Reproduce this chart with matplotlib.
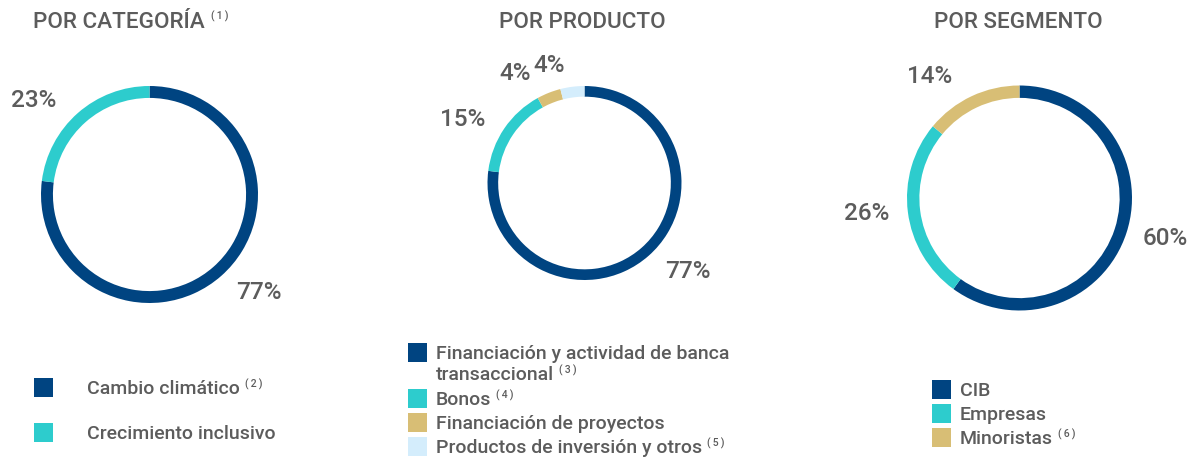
import matplotlib
matplotlib.use("Agg")
import matplotlib.pyplot as plt
from matplotlib.patches import Rectangle

plt.rcParams['font.family'] = ['Roboto', 'DejaVu Sans']

# Data
cat_labels = ['Cambio climático', 'Crecimiento inclusivo']
cat_notes = ['2', None]
cat_values = [77, 23]

prod_labels = ['Financiación y actividad de banca\ntransaccional', 'Bonos',
               'Financiación de proyectos', 'Productos de inversión y otros']
prod_notes = ['3', '4', None, '5']
prod_values = [77, 15, 4, 4]

seg_labels = ['CIB', 'Empresas', 'Minoristas']
seg_notes = [None, None, '6']
seg_values = [60, 26, 14]

titles = ['POR CATEGORÍA', 'POR PRODUCTO', 'POR SEGMENTO']
title_notes = ['1', None, None]

# Colours
NAVY = '#004481'
TURQ = '#2dcccd'
SAND = '#d8be75'
LIGHT = '#d4edfc'
GREY = '#5c5c5c'
palette = [NAVY, TURQ, SAND, LIGHT]

W, H = 1200, 457
fig = plt.figure(figsize=(W / 100, H / 100), dpi=100)
fig.patch.set_facecolor('white')


def fx(px):
    return px / W


def fy(py):
    return 1 - py / H


def sup(txt, note, top_px, gap=5):
    # little "(n)" after a text object, top aligned with the capitals
    fig.canvas.draw()
    bb = txt.get_window_extent()
    fig.text((bb.x1 + gap) / W, fy(top_px), f'(\u2009{note}\u2009)',
             fontsize=7.5, color=GREY, fontweight='medium',
             ha='left', va='top')


def donut(cx, cy, r, values, pct_pos):
    ax = fig.add_axes([fx(cx - r), fy(cy + r), 2 * r / W, 2 * r / H])
    ax.pie(values, colors=palette[:len(values)], startangle=90,
           counterclock=False, radius=1,
           wedgeprops=dict(width=0.11, edgecolor='none', linewidth=0))
    ax.set_xlim(-1, 1)
    ax.set_ylim(-1, 1)
    ax.set_aspect('equal')
    ax.axis('off')
    for v, (px, py) in zip(values, pct_pos):
        ax.text(px, py, f'{v}%', fontsize=17.5, color=GREY,
                fontweight='medium', ha='center', va='center')
    return ax


def legend(x_sq, x_txt, rows, labels, notes, wrap_gap=21):
    for i, (lab, note, yc) in enumerate(zip(labels, notes, rows)):
        fig.patches.append(Rectangle((fx(x_sq), fy(yc + 9.5)), 19 / W, 19 / H,
                                     transform=fig.transFigure,
                                     facecolor=palette[i], edgecolor='none'))
        last, last_y = None, yc
        for j, line in enumerate(lab.split('\n')):
            last_y = yc + j * wrap_gap
            last = fig.text(fx(x_txt), fy(last_y), line,
                            fontsize=14, color=GREY, fontweight='medium',
                            ha='left', va='center_baseline')
        if note:
            sup(last, note, last_y - 8)


# Titles
title_x = [33, 582, 1018]
title_ha = ['left', 'center', 'center']
for t, n, x, ha in zip(titles, title_notes, title_x, title_ha):
    tt = fig.text(fx(x), fy(20), t, fontsize=16.2, color=GREY, ha=ha,
                  fontweight='medium', va='center_baseline')
    if n:
        sup(tt, n, 11, gap=6)

# Donuts
donut(149.5, 194.5, 108.5, cat_values, [(1.01, -0.90), (-1.07, 0.87)])
donut(584.5, 183, 97, prod_values,
      [(1.07, -0.91), (-1.26, 0.65), (-0.72, 1.13), (-0.36, 1.21)])
donut(1019.5, 198, 112.5, seg_values,
      [(1.30, -0.36), (-1.36, -0.14), (-0.80, 1.08)])

# Legends
legend(34, 87, [387, 432], cat_labels, cat_notes)
legend(408, 436, [352, 398, 422, 446], prod_labels, prod_notes)
legend(932, 960, [389, 413, 437], seg_labels, seg_notes)

fig.savefig('out.png', dpi=100, facecolor='white')
